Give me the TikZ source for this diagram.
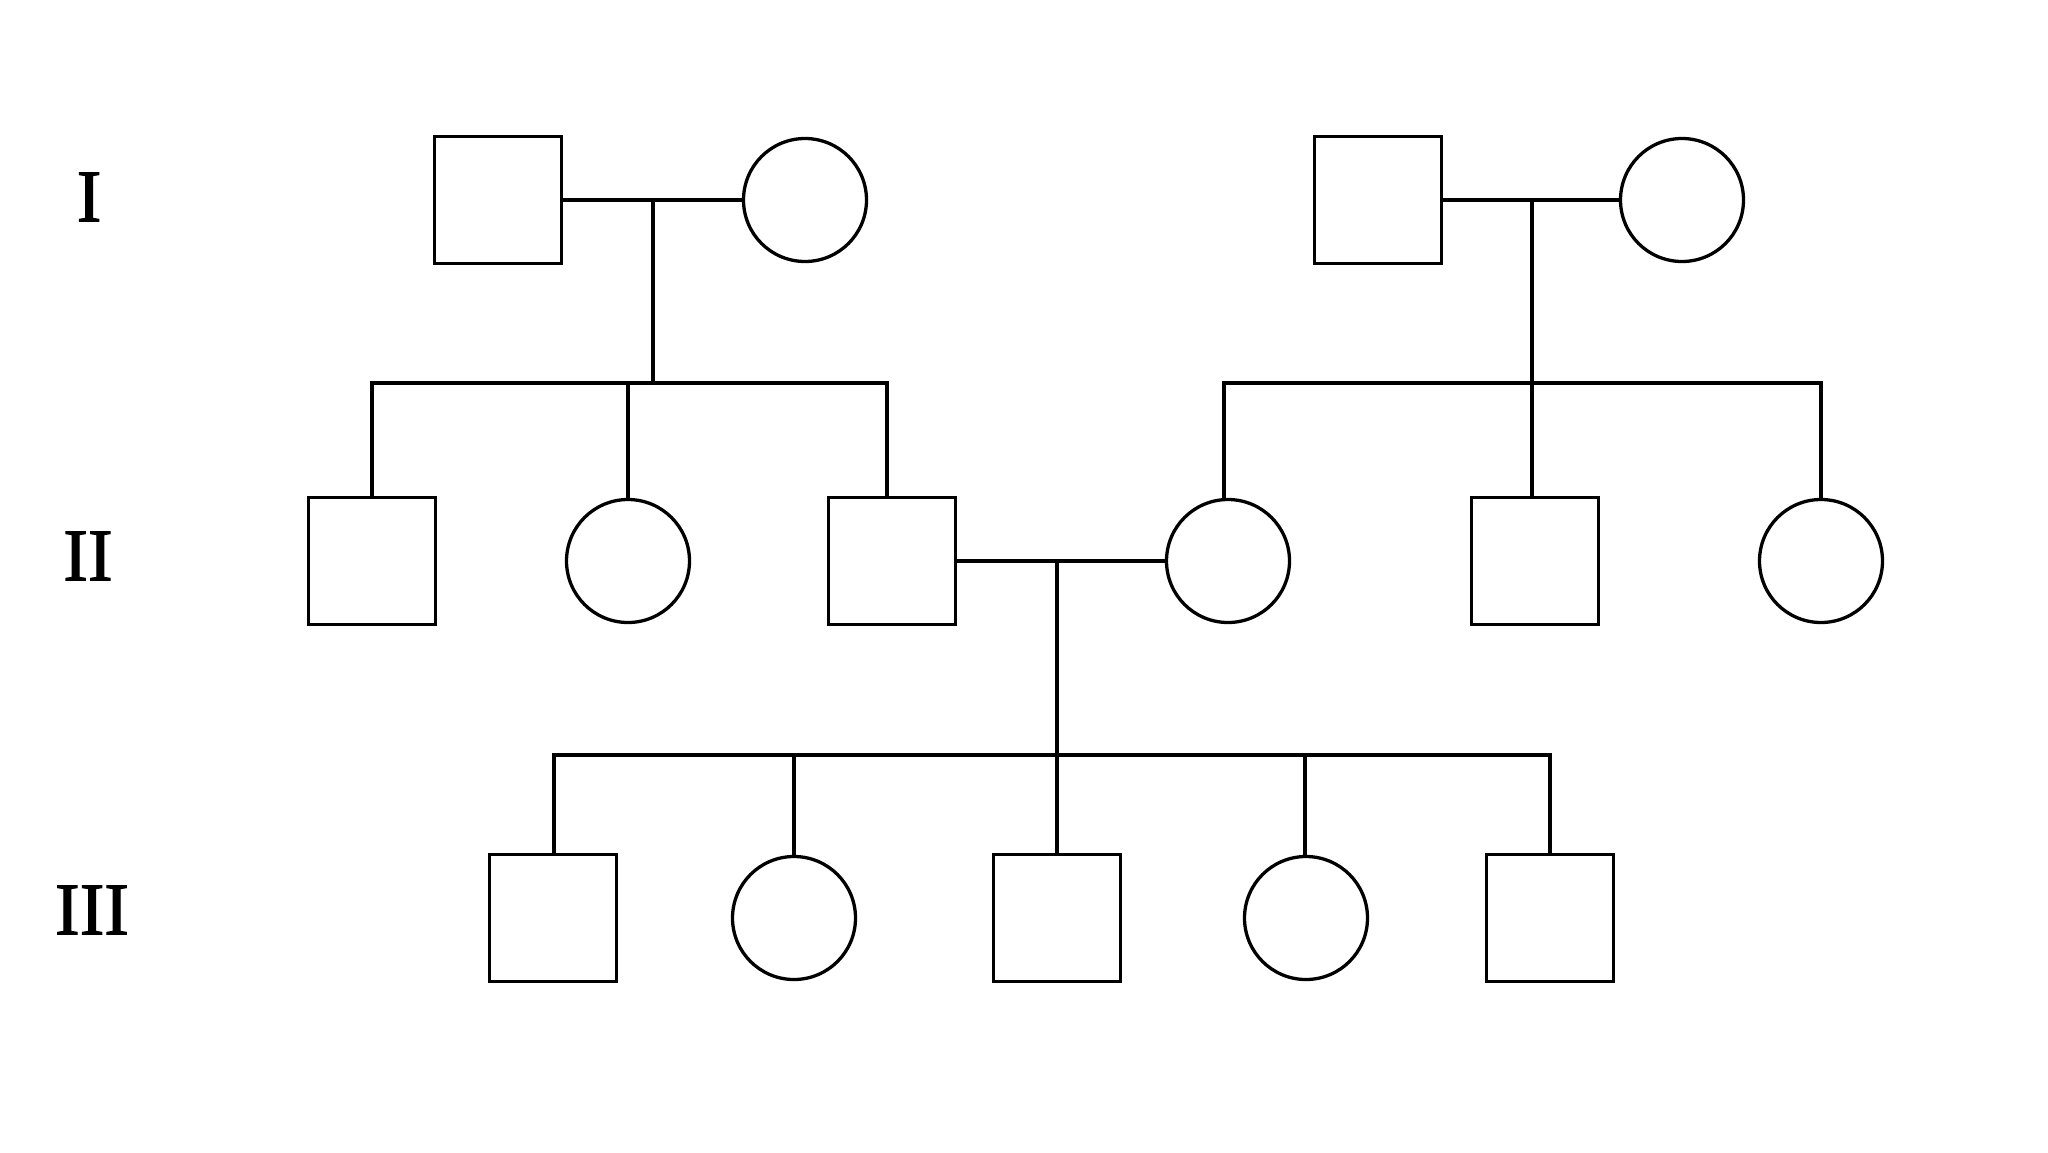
\documentclass[tikz,border=0pt]{standalone}
\usepackage{fontspec}
\setmainfont{Liberation Serif}
\newfontfamily\genfont[FakeBold=1.5]{Liberation Serif}
\begin{document}
\begin{tikzpicture}[x=1pt,y=-1pt,line width=3.3pt,
  male/.style={draw,rectangle,minimum size=127pt,inner sep=0pt},
  female/.style={draw,circle,minimum size=123pt,inner sep=0pt},
  gen/.style={font=\genfont\fontsize{74}{80}\selectfont,inner sep=0pt}]
\useasboundingbox[fill=white] (0,0) rectangle (2048,1152);
% generation labels
\node[gen] (gI) at (89,197) {I};
\node[gen] (gII) at (88,556) {II};
\node[gen] (gIII) at (92,910) {III};
% generation I
\node[male] (m1) at (498,200) {};
\node[female] (f1) at (805,200) {};
\node[male] (m2) at (1378,200) {};
\node[female] (f2) at (1682,200) {};
% generation II
\node[male] (a) at (372,561) {};
\node[female] (b) at (628,561) {};
\node[male] (c) at (892,561) {};
\node[female] (d) at (1228,561) {};
\node[male] (e) at (1535,561) {};
\node[female] (f) at (1821,561) {};
% generation III
\node[male] (p) at (553,918) {};
\node[female] (q) at (794,918) {};
\node[male] (r) at (1057,918) {};
\node[female] (s) at (1306,918) {};
\node[male] (t) at (1550,918) {};
% junctions
\coordinate (j1) at (653,200);
\coordinate (s1) at (653,383);
\coordinate (j2) at (1532,200);
\coordinate (s2) at (1532,383);
\coordinate (j3) at (1057,561);
\coordinate (s3) at (1057,755);
\coordinate (la) at (372,383);
\coordinate (lb) at (628,383);
\coordinate (lc) at (887,383);
\coordinate (ld) at (1224,383);
\coordinate (le) at (1532,383);
\coordinate (lf) at (1821,383);
\coordinate (lp) at (554,755);
\coordinate (lq) at (794,755);
\coordinate (lr) at (1057,755);
\coordinate (ls) at (1305,755);
\coordinate (lt) at (1550,755);
% marriages
\draw (m1.east) -- (f1.west);
\draw (m2.east) -- (f2.west);
\draw (c.east) -- (d.west);
% descent lines
\draw (j1) -- (s1);
\draw (j2) -- (s2);
\draw (j3) -- (s3);
% sibling lines with outer drops
\draw (la |- a.north) -- (la) -- (lc) -- (lc |- c.north);
\draw (ld |- d.north) -- (ld) -- (lf) -- (f.north);
\draw (lp |- p.north) -- (lp) -- (lt) -- (t.north);
% inner child drops
\draw (lb) -- (b.north);
\draw (le) -- (le |- e.north);
\draw (lq) -- (q.north);
\draw (lr) -- (r.north);
\draw (ls) -- (ls |- s.north);
\end{tikzpicture}
\end{document}
